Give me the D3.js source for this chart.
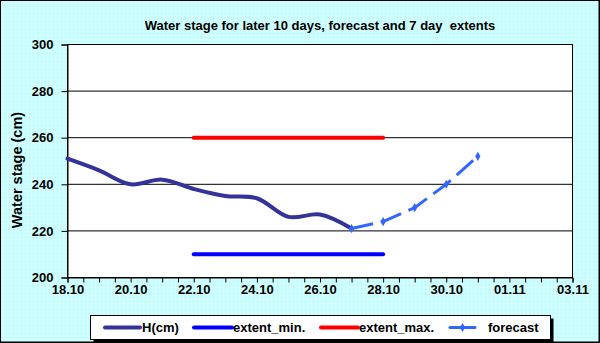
<!DOCTYPE html>
<html>
<head>
<meta charset="utf-8">
<script src="https://cdn.jsdelivr.net/npm/d3@7"></script>
<style>
  html, body { margin: 0; padding: 0; }
  body { width: 600px; height: 343px; overflow: hidden; }
  svg text { font-family: Arial, "Liberation Sans", sans-serif; font-weight: bold; fill: #000; }
</style>
</head>
<body>
<div id="chart"></div>
<script>
// observed water stage, cm
const hDates = ['2009-10-18', '2009-10-19', '2009-10-20', '2009-10-21', '2009-10-22',
  '2009-10-23', '2009-10-24', '2009-10-25', '2009-10-26', '2009-10-27'];
const hValues = [251, 246, 240, 242, 238, 235, 234, 226, 227, 221];

// forecast
const forecastDates = ['2009-10-27', '2009-10-28', '2009-10-29', '2009-10-30', '2009-10-31'];
const forecastValues = [221, 224, 230, 240, 252];

// 7 day extents
const extentDates = ['2009-10-22', '2009-10-28'];
const extentMin = [210, 210];
const extentMax = [260, 260];

const yTicks = [200, 220, 240, 260, 280, 300];
const xLabels = ['18.10', '20.10', '22.10', '24.10', '26.10', '28.10', '30.10', '01.11', '03.11'];
const xDomain = ['2009-10-18', '2009-11-03'];

const seriesNames = ['H(cm)', 'extent_min.', 'extent_max.', 'forecast'];
const colors = ['#333399', '#0000ff', '#ff0000', '#3366ff'];

const WIDTH = 600;
const HEIGHT = 343;
const LEFT = 67.5;
const RIGHT = 572.5;
const TOP = 44.5;
const BOTTOM = 277.5;

const parse = d3.utcParse('%Y-%m-%d');
const fmt = d3.utcFormat('%d.%m');

const svg = d3.select('#chart').append('svg')
  .attr('width', WIDTH).attr('height', HEIGHT);

// dotted cyan background
const defs = svg.append('defs');
const pat = defs.append('pattern').attr('id', 'bg')
  .attr('width', 4).attr('height', 4).attr('patternUnits', 'userSpaceOnUse');
pat.append('rect').attr('width', 4).attr('height', 4).attr('fill', '#ccffff');
pat.append('rect').attr('x', 1).attr('y', 1).attr('width', 1).attr('height', 1).attr('fill', '#b8f0f0');
pat.append('rect').attr('x', 3).attr('y', 3).attr('width', 1).attr('height', 1).attr('fill', '#e6ffff');

svg.append('rect').attr('x', 0.5).attr('y', 0.5)
  .attr('width', WIDTH - 1.5).attr('height', HEIGHT - 1.5)
  .attr('fill', 'url(#bg)').attr('stroke', '#000');
svg.append('path').attr('d', `M${WIDTH - 0.5},0V${HEIGHT - 0.5}H0`)
  .attr('fill', 'none').attr('stroke', '#000');

const xScale = d3.scaleUtc().domain(xDomain.map(parse)).range([LEFT, RIGHT]);
const yScale = d3.scaleLinear().domain([200, 300]).range([BOTTOM, TOP]);

// plot area
svg.append('rect')
  .attr('x', LEFT).attr('y', TOP)
  .attr('width', RIGHT - LEFT).attr('height', BOTTOM - TOP)
  .attr('fill', '#fff').attr('stroke', '#000');

// gridlines
svg.append('g')
  .selectAll('line')
  .data(yTicks)
  .join('line')
  .attr('x1', LEFT).attr('x2', RIGHT)
  .attr('y1', (d) => yScale(d)).attr('y2', (d) => yScale(d))
  .attr('stroke', '#000');

// y axis
const yAxis = svg.append('g')
  .attr('transform', `translate(${LEFT}, 0)`)
  .call(d3.axisLeft(yScale).tickValues(yTicks).tickSize(6).tickPadding(8));
yAxis.select('.domain').attr('stroke', '#000');
yAxis.selectAll('text').style('font-size', '13px').attr('font-family', null);

// x axis, ticks every 12 hours, labels every 2 days
const xAxis = svg.append('g')
  .attr('transform', `translate(0, ${BOTTOM})`)
  .call(d3.axisBottom(xScale)
    .ticks(d3.utcHour.every(12))
    .tickSize(5).tickPadding(2)
    .tickFormat((d) => {
      const label = fmt(d);
      return d.getUTCHours() === 0 && xLabels.includes(label) ? label : '';
    }));
xAxis.selectAll('text').style('font-size', '13px').attr('font-family', null);

svg.selectAll('.tick line').attr('stroke', '#000');

// extents
const line = d3.line()
  .x((d) => xScale(d[0]))
  .y((d) => yScale(d[1]));

[[extentMin, colors[1]], [extentMax, colors[2]]].forEach(([vals, color]) => {
  svg.append('path')
    .datum(extentDates.map((d, i) => [parse(d), vals[i]]))
    .attr('d', line)
    .attr('fill', 'none')
    .attr('stroke', color)
    .attr('stroke-width', 4)
    .attr('stroke-linecap', 'round');
});

// observed
svg.append('path')
  .datum(hDates.map((d, i) => [parse(d), hValues[i]]))
  .attr('d', line.curve(d3.curveCatmullRom.alpha(0.5)))
  .attr('fill', 'none')
  .attr('stroke', colors[0])
  .attr('stroke-width', 4)
  .attr('stroke-linecap', 'round');
line.curve(d3.curveLinear);

// forecast
const fData = forecastDates.map((d, i) => [parse(d), forecastValues[i]]);
svg.append('path')
  .datum(fData)
  .attr('d', line)
  .attr('fill', 'none')
  .attr('stroke', colors[3])
  .attr('stroke-width', 3)
  .attr('stroke-dasharray', '22,8');

const diamond = d3.symbol().type(d3.symbolDiamond).size(24);
svg.append('g')
  .selectAll('path')
  .data(fData)
  .join('path')
  .attr('d', diamond)
  .attr('transform', (d) => `translate(${xScale(d[0])}, ${yScale(d[1])})`)
  .attr('fill', colors[3]);

// title
svg.append('text')
  .attr('x', (LEFT + RIGHT) / 2).attr('y', 30)
  .attr('text-anchor', 'middle')
  .style('font-size', '13px')
  .style('white-space', 'pre')
  .text('Water stage for later 10 days, forecast and 7 day  extents');

svg.append('text')
  .attr('transform', 'translate(22, 170) rotate(-90)')
  .attr('text-anchor', 'middle')
  .style('font-size', '14.5px')
  .text('Water stage (cm)');

// legend
const legend = svg.append('g');
legend.append('rect').attr('x', 93.5).attr('y', 318.5).attr('width', 460).attr('height', 24).attr('fill', '#000');
legend.append('rect').attr('x', 90.5).attr('y', 315.5).attr('width', 460).attr('height', 24)
  .attr('fill', '#fff').attr('stroke', '#000');

const legendX = [105, 194, 321, 450];
const legendLen = [35, 38, 37, 25];
const textX = [142, 233, 359, 488];
const legendY = 327.5;

seriesNames.forEach((name, i) => {
  legend.append('line')
    .attr('x1', legendX[i]).attr('x2', legendX[i] + legendLen[i])
    .attr('y1', legendY).attr('y2', legendY)
    .attr('stroke', colors[i])
    .attr('stroke-width', i === 3 ? 3 : 4)
    .attr('stroke-linecap', 'round');
  if (i === 3) {
    legend.append('path').attr('d', diamond)
      .attr('transform', `translate(${legendX[i] + legendLen[i] / 2}, ${legendY})`)
      .attr('fill', colors[i]);
  }
  legend.append('text')
    .attr('x', textX[i]).attr('y', 332)
    .style('font-size', '13px')
    .text(name);
});
</script>
</body>
</html>
